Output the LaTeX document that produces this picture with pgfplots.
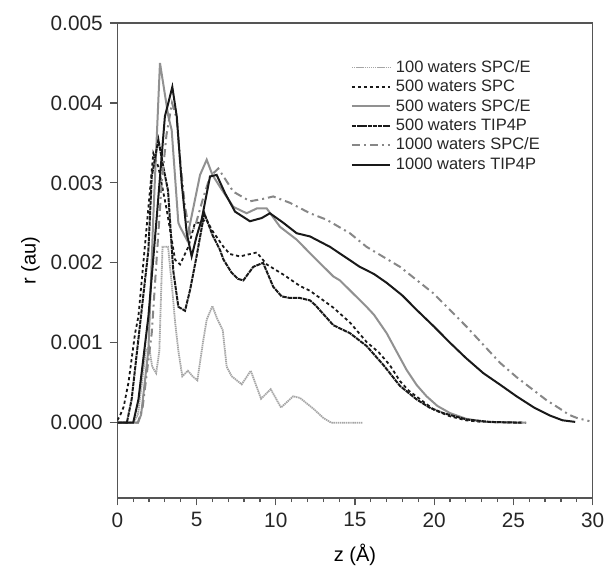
\documentclass[border=0pt]{standalone}
\usepackage{fontspec}
\setmainfont{Liberation Sans}
\usepackage{pgfplots}
\pgfplotsset{compat=1.18}
\definecolor{lgray}{RGB}{165,165,165}
\definecolor{mgray}{RGB}{145,145,145}
\definecolor{dgray}{RGB}{135,135,135}
\definecolor{blk}{RGB}{25,25,25}
\definecolor{frame}{RGB}{85,85,85}
\begin{document}
\begin{tikzpicture}
\begin{axis}[
  scale only axis,
  width=237.7pt, height=237.5pt,
  xmin=0, xmax=30, ymin=-0.00094, ymax=0.005,
  xtick={0,5,...,30}, minor x tick num=4,
  ytick={0,0.001,0.002,0.003,0.004,0.005},
  scaled y ticks=false,
  yticklabel style={/pgf/number format/.cd, fixed, fixed zerofill, precision=3},
  /pgf/number format/assume math mode=true,
  tick align=outside, tick pos=left,
  major tick length=3.8pt, minor tick length=2.2pt,
  axis line style={frame, line width=0.7pt},
  every tick/.style={frame, line width=0.6pt},
  ticklabel style={font=\fontsize{10.4}{12}\selectfont, text=black!85},
  xlabel={z (Å)}, ylabel={r (au)},
  label style={font=\fontsize{10}{12}\selectfont, text=black!85},
  every axis y label/.style={at={(axis description cs:-0.183,0.5)}, rotate=90, anchor=center},
  every axis x label/.style={at={(axis description cs:0.5,-0.12)}, anchor=center},
  legend style={draw=none, fill=none, at={(axis description cs:0.478,0.935)}, anchor=north west,
     font=\fontsize{8.25}{9.8}\selectfont, row sep=0.4pt,
     nodes={inner ysep=0.8pt, inner xsep=2.5pt, text height=6.2pt, text depth=1.5pt, text=black!85}},
  legend cell align=left,
  legend image code/.code={\draw[#1] (0pt,0pt) -- (19pt,0pt);},
]
% 100 waters SPC/E
\addplot[lgray, line width=0.9pt, dash pattern=on 0.7pt off 0.35pt] coordinates {
(0,0) (1.0,0) (1.3,0.0001) (1.8,0.0009) (2.0,0.00095) (2.2,0.0007) (2.45,0.00062) (2.65,0.0009)
(2.85,0.0022) (3.2,0.0022) (3.45,0.0017) (3.65,0.00125) (3.85,0.0009) (4.1,0.00058) (4.45,0.00065)
(4.75,0.00058) (5.05,0.00053) (5.4,0.001) (5.64,0.00129) (6.0,0.00146) (6.3,0.0013) (6.65,0.00116)
(6.9,0.0007) (7.22,0.00058) (7.85,0.00048) (8.42,0.00065) (9.07,0.0003) (9.68,0.00042) (10.33,0.00019)
(11.1,0.00033) (11.53,0.00031) (11.9,0.00025) (12.4,0.00017) (13.0,0.00006) (13.5,0) (15.5,0)};
\addlegendentry{100 waters SPC/E}
% 500 waters SPC
\addplot[blk, line width=0.9pt, dash pattern=on 1.6pt off 1.4pt] coordinates {
(0,0.00003) (0.17,0.00009) (0.4,0.0002) (0.7,0.0005) (1.12,0.00112) (1.33,0.00133) (1.85,0.00245)
(2.27,0.00337) (2.59,0.0032) (3.12,0.00266) (3.64,0.00204) (3.96,0.00198) (4.48,0.0022) (4.9,0.0025)
(5.3,0.0025) (5.6,0.00255) (6.0,0.0024) (6.7,0.0022) (7.1,0.00211) (7.74,0.00208) (8.6,0.00212)
(8.8,0.00213) (9.43,0.00198) (10.5,0.00185) (11.53,0.00171) (12.16,0.00165) (13.63,0.00144)
(14.7,0.00125) (15.73,0.00101) (16.5,0.00088) (17.2,0.00072) (17.84,0.00052) (18.4,0.0004)
(19.0,0.00031) (20.0,0.00016) (21.0,0.00008) (22.0,0.00003) (23.0,0.00001) (25.8,0)};
\addlegendentry{500 waters SPC}
% 500 waters SPC/E
\addplot[mgray, line width=1pt] coordinates {
(0,0) (1.3,0) (1.5,0.0001) (1.96,0.00091) (2.27,0.00258) (2.69,0.0045) (3.22,0.00383) (3.43,0.00366)
(3.85,0.0025) (3.96,0.00245) (4.38,0.00229) (4.6,0.0025) (5.22,0.0031) (5.64,0.00329) (6.0,0.0031)
(6.48,0.00295) (7.32,0.0027) (8.16,0.00262) (8.8,0.00268) (9.43,0.00268) (10.27,0.00245)
(11.32,0.00229) (12.16,0.00212) (13.63,0.00183) (14.05,0.00178) (15.73,0.00145) (16.2,0.00135)
(17.0,0.00112) (17.6,0.0009) (18.26,0.00066) (18.9,0.00047) (19.52,0.00033) (20.2,0.00021)
(21.0,0.00012) (22.0,0.00005) (23.2,0.00001) (25.8,0)};
\addlegendentry{500 waters SPC/E}
% 500 waters TIP4P
\addplot[blk, line width=1pt, dash pattern=on 2.2pt off 0.4pt] coordinates {
(0,0) (0.6,0) (0.9,0.00029) (1.96,0.00216) (2.17,0.00308) (2.59,0.00354) (2.9,0.0032) (3.2,0.0029)
(3.53,0.0019) (3.85,0.00145) (4.27,0.0014) (4.59,0.00166) (5.0,0.00208) (5.49,0.00262) (6.0,0.00235)
(6.48,0.00216) (6.7,0.00204) (7.2,0.00188) (7.6,0.0018) (7.95,0.00178) (8.58,0.00195) (9.2,0.002)
(9.84,0.0017) (10.37,0.00158) (10.9,0.00156) (11.53,0.00156) (12.16,0.00153) (12.5,0.00147)
(13.63,0.00122) (14.68,0.00112) (15.73,0.00096) (16.8,0.00072) (17.84,0.00046) (18.9,0.00029)
(19.7,0.00019) (20.57,0.00012) (22.05,0.00004) (23.5,0.00001) (25.5,0)};
\addlegendentry{500 waters TIP4P}
% 1000 waters SPC/E
\addplot[dgray, line width=1pt, dash pattern=on 4pt off 2pt on 1pt off 2pt] coordinates {
(0,0) (1.3,0) (1.6,0.0002) (2.17,0.00112) (2.49,0.00208) (2.8,0.003) (3.1,0.0036) (3.45,0.004)
(3.75,0.0038) (3.96,0.00329) (4.27,0.0027) (4.59,0.00237) (4.9,0.00245) (5.4,0.0028) (5.85,0.00308)
(6.37,0.00318) (6.8,0.00305) (7.32,0.00289) (8.37,0.00277) (9.2,0.0028) (9.84,0.00283) (10.9,0.00275)
(12.16,0.00262) (13.2,0.00254) (14.68,0.00237) (15.73,0.0022) (17.84,0.00195) (19.94,0.00162)
(22.05,0.0012) (24.15,0.00075) (25.2,0.00057) (26.25,0.00041) (27.1,0.00028) (27.9,0.00018)
(28.5,0.0001) (29.0,0.00006) (29.8,0.00002)};
\addlegendentry{1000 waters SPC/E}
% 1000 waters TIP4P
\addplot[blk, line width=1pt] coordinates {
(0,0) (1.0,0) (1.33,0.00029) (1.96,0.00133) (2.49,0.00258) (3.0,0.00383) (3.47,0.0042) (3.75,0.00383)
(4.06,0.003) (4.38,0.00237) (4.69,0.00208) (5.0,0.00233) (5.32,0.00254) (5.85,0.00308) (6.27,0.0031)
(6.8,0.00287) (7.43,0.00264) (8.37,0.00252) (9.11,0.00256) (9.63,0.00262) (10.48,0.0025)
(11.32,0.00237) (12.16,0.00233) (13.42,0.0022) (14.4,0.00207) (15.3,0.00195) (16.2,0.00186)
(17.0,0.00175) (18.0,0.00159) (18.9,0.00141) (20.0,0.0012) (21.0,0.001) (22.0,0.00081)
(23.1,0.00062) (24.2,0.00047) (25.2,0.00033) (26.3,0.00019) (27.3,0.00009) (28.1,0.00003) (28.9,0.00001)};
\addlegendentry{1000 waters TIP4P}
\end{axis}
\pgfresetboundingbox
\path (-58.7pt,-35.5pt) rectangle (246.4pt,249pt);
\end{tikzpicture}
\end{document}
